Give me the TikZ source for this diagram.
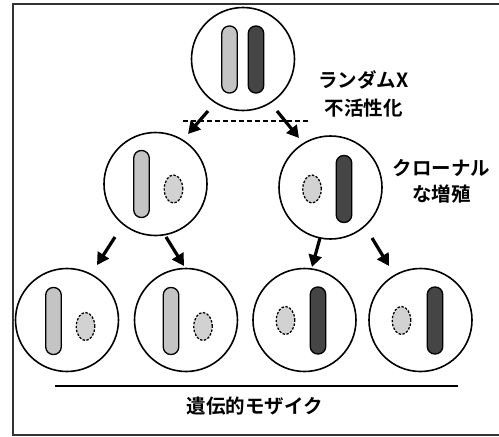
\documentclass[tikz,border=0pt]{standalone}
\usepackage{fontspec}
\newfontfamily\jpfont{Noto Sans CJK JP Bold}
\usetikzlibrary{arrows.meta,shapes.geometric}
\definecolor{xlight}{HTML}{C4C4C4}
\definecolor{xdark}{HTML}{454545}
\definecolor{xsilent}{HTML}{D2D2D2}
\tikzset{
  cell/.style={circle,draw=black,line width=1.6pt,minimum size=103pt,inner sep=0pt},
  chrlight/.style={rectangle,rounded corners=7.5pt,draw=black,line width=1.3pt,fill=xlight,minimum width=15.5pt,minimum height=67pt,inner sep=0pt},
  chrdark/.style={chrlight,fill=xdark},
  inact/.style={ellipse,draw=black,line width=1.3pt,dash pattern=on 2.4pt off 1.6pt,fill=xsilent,minimum width=18.5pt,minimum height=28pt,inner sep=0pt},
  flow/.style={line width=3.2pt,-{Triangle[length=12pt,width=13pt]}},
  label/.style={font=\jpfont\fontsize{19.5}{22}\selectfont,align=center,inner sep=0pt}
}
\begin{document}
\begin{tikzpicture}[x=1pt,y=-1pt]
\useasboundingbox (0,0) rectangle (499,437);
% outer frame (its right side falls outside the page)
\draw[line width=1.4pt,draw=black!80] (13,4) rectangle (505,435);

% parent cell with both X chromosomes active
\node[cell] (top) at (243,59) {};
\node[chrlight] (topA) at (229.5,59.5) {};
\node[chrdark] (topB) at (256,59.5) {};
\node[label] (tRand) at (363.5,80) {ランダムX};
\node[label] (tInact) at (363.5,108) {不活性化};

% random choice
\coordinate (dashL) at (183,121);
\coordinate (dashR) at (309,121);
\draw[line width=1.8pt,dash pattern=on 5pt off 3pt] (dashL) -- (dashR);
\coordinate (a1s) at (208,111);
\coordinate (a1e) at (188,134);
\coordinate (a2s) at (277,111);
\coordinate (a2e) at (299,138);
\draw[flow] (a1s) -- (a1e);
\draw[flow] (a2s) -- (a2e);

% second generation
\node[cell] (mL) at (155.5,184) {};
\node[chrlight] (mLa) at (141.5,184) {};
\node[inact] (mLb) at (173.5,189) {};
\node[cell] (mR) at (330.5,187.5) {};
\node[inact] (mRa) at (312,189) {};
\node[chrdark] (mRb) at (344,189) {};
\node[label] (tClone) at (441.5,181) {クローナル\\[4pt]な増殖};

% clonal expansion arrows
\coordinate (b1s) at (115,237);
\coordinate (b1e) at (97,265);
\coordinate (b2s) at (166,237);
\coordinate (b2e) at (184,266);
\coordinate (b3s) at (320,238);
\coordinate (b3e) at (312,267);
\coordinate (b4s) at (372,238);
\coordinate (b4e) at (389,266);
\draw[flow] (b1s) -- (b1e);
\draw[flow] (b2s) -- (b2e);
\draw[flow] (b3s) -- (b3e);
\draw[flow] (b4s) -- (b4e);

% third generation
\node[cell] (c1) at (67,320) {};
\node[chrlight] (c1a) at (53.5,321) {};
\node[inact] (c1b) at (85.5,326.5) {};
\node[cell] (c2) at (186,320) {};
\node[chrlight] (c2a) at (171,321) {};
\node[inact] (c2b) at (203,326.5) {};
\node[cell] (c3) at (304.5,320) {};
\node[inact] (c3a) at (285.5,320.5) {};
\node[chrdark] (c3b) at (318,320.5) {};
\node[cell] (c4) at (420.5,320) {};
\node[inact] (c4a) at (401.5,320.5) {};
\node[chrdark] (c4b) at (435,320.5) {};

% mosaic bracket
\coordinate (mos1) at (55,386);
\coordinate (mos2) at (458,386);
\draw[line width=1.8pt] (mos1) -- (mos2);
\node[label] (tMosaic) at (255,406) {遺伝的モザイク};
\end{tikzpicture}
\end{document}
